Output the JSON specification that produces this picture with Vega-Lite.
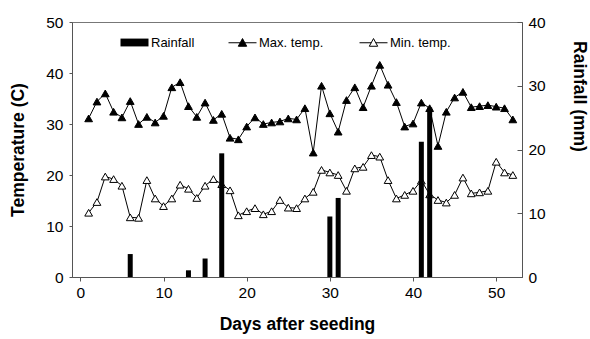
{
  "$schema": "https://vega.github.io/schema/vega-lite/v6.json",
  "width": 450,
  "height": 255,
  "autosize": {"type": "none"},
  "padding": {"left": 72, "top": 22, "right": 68, "bottom": 62},
  "background": "white",
  "config": {
    "font": "Liberation Sans",
    "view": {"stroke": "#777", "strokeWidth": 1},
    "axis": {"grid": false, "domainColor": "#555", "tickColor": "#555", "labelColor": "black", "titleColor": "black", "labelFont": "Liberation Sans", "titleFont": "Liberation Sans", "labelFontSize": 15.5, "titleFontSize": 17.5, "titleFontWeight": "bold"},
    "legend": {"labelFont": "Liberation Sans", "labelFontSize": 13, "labelColor": "black", "labelOffset": 2, "padding": 0, "symbolSize": 784, "symbolStrokeWidth": 1}
  },
  "datasets": {
    "temp": [
      {"day":1,"series":"Max. temp.","value":31.1},{"day":2,"series":"Max. temp.","value":34.4},{"day":3,"series":"Max. temp.","value":36.0},{"day":4,"series":"Max. temp.","value":32.4},{"day":5,"series":"Max. temp.","value":31.3},{"day":6,"series":"Max. temp.","value":34.5},{"day":7,"series":"Max. temp.","value":30.0},{"day":8,"series":"Max. temp.","value":31.4},{"day":9,"series":"Max. temp.","value":30.3},{"day":10,"series":"Max. temp.","value":31.6},
      {"day":11,"series":"Max. temp.","value":37.2},{"day":12,"series":"Max. temp.","value":38.2},{"day":13,"series":"Max. temp.","value":33.5},{"day":14,"series":"Max. temp.","value":31.4},{"day":15,"series":"Max. temp.","value":34.2},{"day":16,"series":"Max. temp.","value":30.8},{"day":17,"series":"Max. temp.","value":32.0},{"day":18,"series":"Max. temp.","value":27.3},{"day":19,"series":"Max. temp.","value":27.0},{"day":20,"series":"Max. temp.","value":29.5},
      {"day":21,"series":"Max. temp.","value":31.3},{"day":22,"series":"Max. temp.","value":30.0},{"day":23,"series":"Max. temp.","value":30.3},{"day":24,"series":"Max. temp.","value":30.5},{"day":25,"series":"Max. temp.","value":31.1},{"day":26,"series":"Max. temp.","value":30.9},{"day":27,"series":"Max. temp.","value":33.1},{"day":28,"series":"Max. temp.","value":24.4},{"day":29,"series":"Max. temp.","value":37.5},{"day":30,"series":"Max. temp.","value":32.1},
      {"day":31,"series":"Max. temp.","value":28.5},{"day":32,"series":"Max. temp.","value":34.7},{"day":33,"series":"Max. temp.","value":37.2},{"day":34,"series":"Max. temp.","value":33.3},{"day":35,"series":"Max. temp.","value":37.5},{"day":36,"series":"Max. temp.","value":41.6},{"day":37,"series":"Max. temp.","value":37.7},{"day":38,"series":"Max. temp.","value":34.3},{"day":39,"series":"Max. temp.","value":29.5},{"day":40,"series":"Max. temp.","value":30.1},
      {"day":41,"series":"Max. temp.","value":34.2},{"day":42,"series":"Max. temp.","value":33.1},{"day":43,"series":"Max. temp.","value":25.7},{"day":44,"series":"Max. temp.","value":32.4},{"day":45,"series":"Max. temp.","value":35.2},{"day":46,"series":"Max. temp.","value":36.3},{"day":47,"series":"Max. temp.","value":33.3},{"day":48,"series":"Max. temp.","value":33.5},{"day":49,"series":"Max. temp.","value":33.7},{"day":50,"series":"Max. temp.","value":33.4},
      {"day":51,"series":"Max. temp.","value":33.1},{"day":52,"series":"Max. temp.","value":30.9},
      {"day":1,"series":"Min. temp.","value":12.6},{"day":2,"series":"Min. temp.","value":14.7},{"day":3,"series":"Min. temp.","value":19.7},{"day":4,"series":"Min. temp.","value":19.2},{"day":5,"series":"Min. temp.","value":17.9},{"day":6,"series":"Min. temp.","value":11.7},{"day":7,"series":"Min. temp.","value":11.6},{"day":8,"series":"Min. temp.","value":19.0},{"day":9,"series":"Min. temp.","value":15.4},{"day":10,"series":"Min. temp.","value":13.9},
      {"day":11,"series":"Min. temp.","value":15.4},{"day":12,"series":"Min. temp.","value":18.1},{"day":13,"series":"Min. temp.","value":17.3},{"day":14,"series":"Min. temp.","value":15.5},{"day":15,"series":"Min. temp.","value":17.9},{"day":16,"series":"Min. temp.","value":19.2},{"day":17,"series":"Min. temp.","value":18.2},{"day":18,"series":"Min. temp.","value":17.0},{"day":19,"series":"Min. temp.","value":12.1},{"day":20,"series":"Min. temp.","value":12.9},
      {"day":21,"series":"Min. temp.","value":13.5},{"day":22,"series":"Min. temp.","value":12.3},{"day":23,"series":"Min. temp.","value":12.9},{"day":24,"series":"Min. temp.","value":15.1},{"day":25,"series":"Min. temp.","value":13.6},{"day":26,"series":"Min. temp.","value":13.5},{"day":27,"series":"Min. temp.","value":15.4},{"day":28,"series":"Min. temp.","value":16.7},{"day":29,"series":"Min. temp.","value":21.0},{"day":30,"series":"Min. temp.","value":20.5},
      {"day":31,"series":"Min. temp.","value":20.0},{"day":32,"series":"Min. temp.","value":16.9},{"day":33,"series":"Min. temp.","value":21.3},{"day":34,"series":"Min. temp.","value":21.6},{"day":35,"series":"Min. temp.","value":23.9},{"day":36,"series":"Min. temp.","value":23.6},{"day":37,"series":"Min. temp.","value":19.0},{"day":38,"series":"Min. temp.","value":15.4},{"day":39,"series":"Min. temp.","value":16.1},{"day":40,"series":"Min. temp.","value":16.9},
      {"day":41,"series":"Min. temp.","value":18.9},{"day":42,"series":"Min. temp.","value":16.2},{"day":43,"series":"Min. temp.","value":15.1},{"day":44,"series":"Min. temp.","value":14.6},{"day":45,"series":"Min. temp.","value":16.1},{"day":46,"series":"Min. temp.","value":19.5},{"day":47,"series":"Min. temp.","value":16.4},{"day":48,"series":"Min. temp.","value":16.6},{"day":49,"series":"Min. temp.","value":16.9},{"day":50,"series":"Min. temp.","value":22.6},
      {"day":51,"series":"Min. temp.","value":20.5},{"day":52,"series":"Min. temp.","value":20.0}
    ],
    "rain": [
      {"day":6,"series":"Rainfall","rainfall":3.6},{"day":13,"series":"Rainfall","rainfall":1.05},{"day":15,"series":"Rainfall","rainfall":2.9},{"day":17,"series":"Rainfall","rainfall":19.4},
      {"day":30,"series":"Rainfall","rainfall":9.5},{"day":31,"series":"Rainfall","rainfall":12.4},{"day":41,"series":"Rainfall","rainfall":21.2},{"day":42,"series":"Rainfall","rainfall":26.6}
    ]
  },
  "layer": [
    {
      "data": {"name": "temp"},
      "layer": [
        {
          "mark": {"type": "line", "color": "black", "strokeWidth": 1},
          "encoding": {
            "detail": {"field": "series"}
          }
        },
        {
          "mark": {"type": "point", "shape": "triangle-up", "stroke": "black", "strokeWidth": 1, "size": 60, "opacity": 1},
          "encoding": {
            "fill": {"field": "series", "type": "nominal",
              "scale": {"domain": ["Max. temp.", "Min. temp."], "range": ["black", "white"]},
              "legend": {"orient": "none", "legendX": 156, "legendY": 6, "direction": "horizontal", "title": null,
                "columnPadding": 33, "symbolStrokeColor": "black", "symbolOpacity": 1,
                "symbolType": "M-1,0H-0.16M0.16,0H1M-0.3,0.25L0,-0.3L0.3,0.25Z"}
            }
          }
        }
      ],
      "encoding": {
        "x": {"field": "day", "type": "quantitative", "scale": {"domain": [-0.4, 52.5], "nice": false, "zero": false},
              "axis": {"title": "Days after seeding", "values": [0,10,20,30,40,50], "tickSize": 4, "labelPadding": 4, "titlePadding": 15}},
        "y": {"field": "value", "type": "quantitative", "scale": {"domain": [0, 50], "nice": false},
              "axis": {"orient": "left", "title": "Temperature (C)", "values": [0,10,20,30,40,50], "tickSize": 3, "labelPadding": 6, "titlePadding": 18}}
      }
    },
    {
      "data": {"name": "rain"},
      "mark": {"type": "bar", "size": 5},
      "encoding": {
        "x": {"field": "day", "type": "quantitative"},
        "y": {"field": "rainfall", "type": "quantitative", "scale": {"domain": [0, 40], "nice": false},
              "axis": {"orient": "right", "title": "Rainfall (mm)", "values": [0,10,20,30,40], "tickSize": -5, "labelPadding": 11, "titlePadding": 24, "titleY": 74}},
        "color": {"field": "series", "type": "nominal",
          "scale": {"domain": ["Rainfall"], "range": ["black"]},
          "legend": {"orient": "none", "legendX": 48, "legendY": 6, "title": null, "symbolOpacity": 1,
            "symbolType": "M-1,-0.28H1V0.28H-1Z"}}
      }
    }
  ],
  "resolve": {"scale": {"y": "independent"}}
}
